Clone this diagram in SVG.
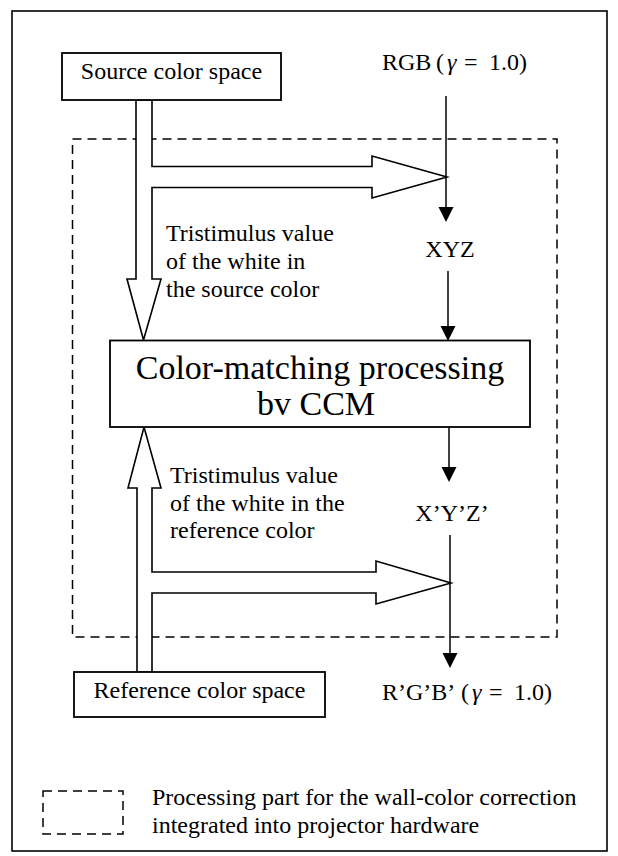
<svg xmlns="http://www.w3.org/2000/svg" width="618" height="856" viewBox="0 0 618 856">
  <style>
    .box { fill: #fff; stroke: #000; stroke-width: 1.8; }
    .hollow { fill: #fff; stroke: #000; stroke-width: 1.6; stroke-linejoin: miter; }
    .line { stroke: #000; stroke-width: 1.5; fill: none; }
    .head { fill: #000; stroke: none; }
    .dash { fill: none; stroke: #000; stroke-width: 1.5; stroke-dasharray: 9 6; }
    text { font-family: "Liberation Serif", "Times New Roman", serif; font-size: 24px; fill: #000; }
    .big { font-size: 34px; }
    .gam { font-style: italic; }
  </style>

  <!-- frame -->
  <rect x="12" y="11" width="595" height="840" fill="#fff" stroke="#000" stroke-width="1.6"/>

  <!-- hardware region -->
  <rect class="dash" x="72.5" y="139" width="484.5" height="498"/>

  <g id="connectors">
    <!-- source white point: down into CCM, branch right to RGB path -->
    <polygon class="hollow" points="136,100 152,100 152,166.5 372,166.5 372,156 447,177 372,198 372,187.5 152,187.5 152,279 161,279 143.5,340 127,279 136,279"/>
    <!-- reference white point: up into CCM, branch right to X'Y'Z' path -->
    <polygon class="hollow" points="137,672 137,488 128,488 144,427 161,488 152,488 152,572 376,572 376,561 451,583 376,604 376,593 152,593 152,672"/>

    <line class="line" x1="446" y1="96" x2="446" y2="208"/>
    <polygon class="head" points="438.5,207 453.5,207 446,222"/>

    <line class="line" x1="448" y1="271" x2="448" y2="327"/>
    <polygon class="head" points="440.5,326 455.5,326 448,341"/>

    <line class="line" x1="449" y1="427" x2="449" y2="468"/>
    <polygon class="head" points="441.5,467 456.5,467 449,482"/>

    <line class="line" x1="450" y1="535" x2="450" y2="654"/>
    <polygon class="head" points="442.5,653 457.5,653 450,668"/>
  </g>

  <g id="source">
    <rect class="box" x="62" y="53" width="219" height="47"/>
    <text x="171.5" y="79" text-anchor="middle">Source color space</text>
  </g>

  <g id="ccm">
    <rect class="box" x="110" y="340.5" width="420" height="86.5"/>
    <text class="big" x="320" y="379" text-anchor="middle">Color-matching processing</text>
    <text class="big" x="316" y="415" text-anchor="middle">bv CCM</text>
  </g>

  <g id="reference">
    <rect class="box" x="74" y="672" width="251" height="45"/>
    <text x="199.5" y="698" text-anchor="middle">Reference color space</text>
  </g>

  <g id="rgb">
    <text x="382" y="70">RGB</text>
    <text x="436" y="70">(</text>
    <text class="gam" x="447" y="70">γ</text>
    <text x="464" y="70">=</text>
    <text x="489" y="70">1.0</text>
    <text x="519" y="70">)</text>
  </g>

  <g id="xyz">
    <text x="450" y="257" text-anchor="middle">XYZ</text>
  </g>

  <g id="xyz-prime">
    <text x="452" y="521" text-anchor="middle">X’Y’Z’</text>
  </g>

  <g id="rgb-prime">
    <text x="382" y="700">R’G’B’</text>
    <text x="461" y="700">(</text>
    <text class="gam" x="472" y="700">γ</text>
    <text x="489" y="700">=</text>
    <text x="514" y="700">1.0</text>
    <text x="544" y="700">)</text>
  </g>

  <g id="source-white-label">
    <text x="166" y="241">Tristimulus value</text>
    <text x="166" y="269">of the white in</text>
    <text x="166" y="297">the source color</text>
  </g>

  <g id="reference-white-label">
    <text x="170" y="483">Tristimulus value</text>
    <text x="170" y="511">of the white in the</text>
    <text x="170" y="538">reference color</text>
  </g>

  <g id="legend">
    <rect class="dash" x="43" y="791" width="80" height="43" stroke-dasharray="7 5"/>
    <text x="152" y="805">Processing part for the wall-color correction</text>
    <text x="152" y="833">integrated into projector hardware</text>
  </g>
</svg>
